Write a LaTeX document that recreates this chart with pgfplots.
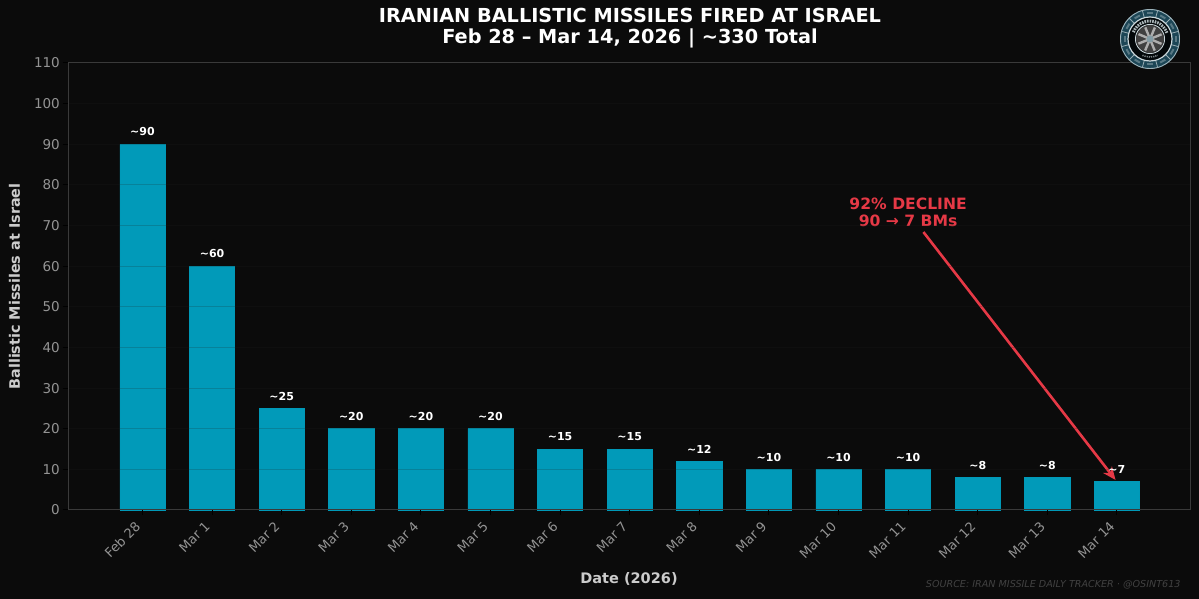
\documentclass[border=0pt]{standalone}
\usepackage{fontspec}
\setmainfont{DejaVu Sans}
\usepackage{pgfplots}
\pgfplotsset{compat=1.18}
\usepackage{pgfplotstable}
\usetikzlibrary{arrows.meta}
\definecolor{bg}{HTML}{0B0B0B}
\definecolor{barc}{HTML}{00B4D8}
\definecolor{spine}{HTML}{3A3A3A}
\definecolor{gridc}{HTML}{222222}
\definecolor{tickc}{HTML}{949494}
\definecolor{labc}{HTML}{CCCCCC}
\definecolor{redc}{HTML}{E63946}
\definecolor{logoc}{HTML}{1C4656}
\definecolor{logol}{HTML}{C9D6DA}

\pgfplotstableread{
idx val
0 90
1 60
2 25
3 20
4 20
5 20
6 15
7 15
8 12
9 10
10 10
11 10
12 8
13 8
14 7
}\missiles

\begin{document}
\begin{tikzpicture}[x=1pt,y=1pt]
\useasboundingbox (0,0) rectangle (1199,599);
\fill[bg] (0,0) rectangle (1199,599);
\begin{axis}[
  at={(68pt,89pt)},anchor=south west,
  scale only axis,width=1122pt,height=447pt,
  xmin=-1.07,xmax=15.05,ymin=0,ymax=110,
  xtick=data,
  xticklabels={Feb 28,Mar 1,Mar 2,Mar 3,Mar 4,Mar 5,Mar 6,Mar 7,Mar 8,Mar 9,Mar 10,Mar 11,Mar 12,Mar 13,Mar 14},
  ytick={0,10,...,110},
  x tick label style={rotate=45,anchor=north east,font=\fontsize{13}{15}\selectfont,text=tickc,inner sep=2pt,xshift=-7.5pt,yshift=4pt},
  y tick label style={font=\fontsize{13.5}{15}\selectfont,text=tickc,inner sep=3pt},
  /pgf/number format/assume math mode=true,
  tick align=outside,xtick pos=bottom,ytick pos=left,
  major tick length=5pt,
  tick style={color=spine!130,line width=1pt},
  axis line style={color=spine,line width=1pt},
  axis on top,
  ymajorgrids,
  grid style={color=gridc,opacity=0.2,line width=1pt},
  axis background/.style={fill=bg},
  xlabel={\fontsize{14.5}{17}\selectfont\bfseries Date (2026)},
  xlabel style={text=labc,at={(axis description cs:0.5,0)},anchor=center,yshift=-69pt},
  ylabel={\fontsize{14.4}{17}\selectfont\bfseries Ballistic Missiles at Israel},
  ylabel style={text=labc,at={(axis description cs:0,0.5)},anchor=center,yshift=53.5pt},
  clip=false,
]
\addplot[ybar,bar width=0.65,fill=barc,fill opacity=0.85,draw=barc!85!black,line width=0.6pt,
  nodes near coords={\textasciitilde\pgfmathprintnumber{\pgfplotspointmeta}},
  nodes near coords style={text=white,text opacity=1,font=\fontsize{11}{13}\selectfont\bfseries,yshift=4.5pt,
    /pgf/number format/assume math mode=true},
] table[x=idx,y=val] {\missiles};
\draw[-{Stealth[length=13pt,width=11pt]},redc,line width=2.6pt] (axis cs:11.22,68.4) -- (axis cs:13.98,7.4);
\node[text=redc,align=center,font=\fontsize{15.6}{17}\selectfont\bfseries] at (axis cs:11,73.2) {92\% DECLINE\\90 → 7 BMs};
\end{axis}
% title and source line
\node[text=white,align=center,font=\fontsize{19.3}{21}\selectfont\bfseries] at (630,570.5) {IRANIAN BALLISTIC MISSILES FIRED AT ISRAEL\\Feb 28 – Mar 14, 2026 | \textasciitilde330 Total};
\node[text=white!22!bg,anchor=east,font=\fontsize{9.6}{11}\selectfont\itshape] at (1184,14) {SOURCE: IRAN MISSILE DAILY TRACKER · @OSINT613};
% logo badge
\begin{scope}[shift={(1150,560)}]
\fill[logoc] (0,0) circle (30);
\draw[logol!75!logoc,line width=0.9pt] (0,0) circle (29.5);
\foreach \a in {15,45,...,345} \draw[logol!70!logoc,line width=0.8pt] (\a:22) -- (\a:29.5);
\foreach \a in {0,30,...,330} \draw[logol!35!logoc,line width=2pt] (\a:25.5) ++(\a+90:3) -- ++(\a-90:6);
\fill[black!88!logoc] (0,0) circle (22);
\draw[logol,line width=1.2pt] (0,0) circle (22);
\draw[logol!85!black,line width=3pt,dash pattern=on 1.6pt off 1pt] (20:18) arc (20:160:18);
\draw[logol!60!black,line width=1.6pt,dash pattern=on 1.2pt off 1pt] (245:18) arc (245:295:18);
\draw[logol,line width=1pt] (0,0) circle (14.5);
\fill[black!75!white] (0,0) circle (14);
\foreach \a in {0,45,...,315} \draw[white!68!black,line width=2.4pt] (0,0) -- (\a+22:12.5);
\fill[logol!60!logoc] (0,0) circle (3.5);
\end{scope}
\end{tikzpicture}
\end{document}
